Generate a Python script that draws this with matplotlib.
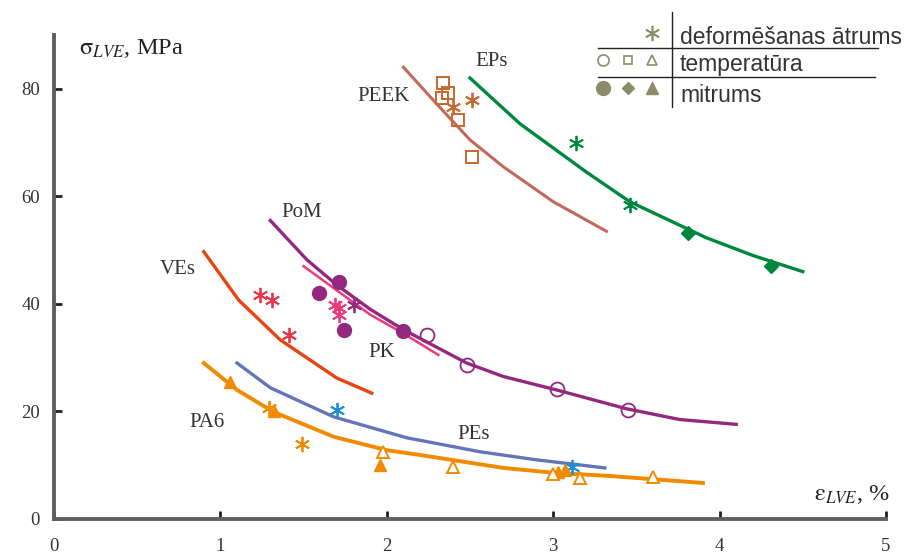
import matplotlib.pyplot as plt
from matplotlib.lines import Line2D

plt.rcParams['mathtext.fontset'] = 'stix'

# curves (strain %, stress MPa)
eps_x = [2.5, 2.8, 3.0, 3.2, 3.46, 3.7, 3.92, 4.2, 4.5]
eps_y = [82, 73.5, 69, 64.5, 59, 55.5, 52.3, 49, 46]
peek_x = [2.1, 2.32, 2.5, 2.7, 3.0, 3.32]
peek_y = [84, 76.5, 70.5, 65.5, 59, 53.5]
pom_x = [1.3, 1.52, 1.7, 1.9, 2.1, 2.48, 2.7, 3.02, 3.44, 3.76, 4.1]
pom_y = [55.5, 48.2, 43.5, 39, 35.2, 29, 26.5, 24, 20.5, 18.5, 17.6]
pk_x = [1.5, 1.7, 1.9, 2.1, 2.31]
pk_y = [47, 42.5, 38, 34.5, 30.5]
ves_x = [0.9, 1.11, 1.36, 1.7, 1.91]
ves_y = [49.7, 40.7, 33.3, 26.2, 23.4]
pes_x = [1.1, 1.3, 1.68, 2.12, 2.56, 2.9, 3.31]
pes_y = [29, 24.4, 19, 15.1, 12.5, 11, 9.5]
pa6_x = [0.9, 1.1, 1.32, 1.68, 2.0, 2.2, 2.7, 3.0, 3.34, 3.9]
pa6_y = [29, 24, 19.9, 15.3, 12.8, 11.9, 9.5, 8.6, 8.0, 6.7]

# experimental points
eps_ast_x = [3.14, 3.46]
eps_ast_y = [70, 58.4]
eps_dia_x = [3.81, 4.31]
eps_dia_y = [53.2, 47]
peek_sq_x = [2.34, 2.37, 2.33, 2.43, 2.51]
peek_sq_y = [81.1, 79.2, 78.3, 74.2, 67.3]
peek_ast_x = [2.40, 2.51]
peek_ast_y = [76.7, 78]
pom_fc_x = [1.59, 1.71, 1.74, 2.10]
pom_fc_y = [42, 44.1, 35.2, 35]
pom_oc_x = [2.24, 2.48, 3.02, 3.45]
pom_oc_y = [34.2, 28.6, 24.2, 20.3]
pom_ast_x = [1.80]
pom_ast_y = [39.8]
pk_ast_x = [1.69, 1.71, 1.71]
pk_ast_y = [39.8, 39.2, 38]
ves_ast_x = [1.24, 1.31, 1.41]
ves_ast_y = [41.7, 40.7, 34.2]
pes_ast_x = [1.70, 3.11]
pes_ast_y = [20.3, 9.7]
pa6_ft_x = [1.06, 1.32, 1.96, 3.03, 3.07]
pa6_ft_y = [25.5, 20.1, 10, 8.8, 9.2]
pa6_ot_x = [1.98, 2.40, 3.0, 3.16, 3.60]
pa6_ot_y = [12.5, 9.7, 8.4, 7.6, 7.8]
pa6_ast_x = [1.49, 1.29]
pa6_ast_y = [14, 20.6]

labels = ['EPs', 'PEEK', 'PoM', 'VEs', 'PK', 'PA6', 'PEs']
label_x = [2.63, 1.98, 1.49, 0.745, 1.97, 0.92, 2.52]
label_y = [85, 78.5, 57, 46.3, 30.9, 18, 15.8]

legend_texts = ['deformēšanas ātrums', 'temperatūra', 'mitrums']

AST = (6, 2, 0)

fig = plt.figure(figsize=(9.12, 5.58), dpi=100)
ax = fig.add_axes([0.0592, 0.0699, 0.9123, 0.8674])

ax.plot(eps_x, eps_y, color='#00873E', lw=2.4)
ax.plot(peek_x, peek_y, color='#C06A5C', lw=2.2)
ax.plot(pom_x, pom_y, color='#93287F', lw=2.4)
ax.plot(pk_x, pk_y, color='#EC3A7C', lw=1.8)
ax.plot(ves_x, ves_y, color='#E9430F', lw=2.4)
ax.plot(pes_x, pes_y, color='#6474B8', lw=2.4)
ax.plot(pa6_x, pa6_y, color='#F28A00', lw=2.8)

ms = 11
mw = 1.3
ax.plot(eps_ast_x, eps_ast_y, ls='none', marker=AST, ms=ms, mec='#00873E', mew=mw)
ax.plot(eps_dia_x, eps_dia_y, ls='none', marker='D', ms=7, color='#00873E')
ax.plot(peek_sq_x, peek_sq_y, ls='none', marker='s', ms=8, mfc='none', mec='#C8662E', mew=1.4)
ax.plot(peek_ast_x, peek_ast_y, ls='none', marker=AST, ms=ms, mec='#C8662E', mew=mw)
ax.plot(pom_fc_x, pom_fc_y, ls='none', marker='o', ms=10, color='#93287F')
ax.plot(pom_oc_x, pom_oc_y, ls='none', marker='o', ms=10, mfc='none', mec='#93287F', mew=1.3)
ax.plot(pom_ast_x, pom_ast_y, ls='none', marker=AST, ms=ms, mec='#93287F', mew=mw)
ax.plot(pk_ast_x, pk_ast_y, ls='none', marker=AST, ms=ms, mec='#EC3A7C', mew=mw)
ax.plot(ves_ast_x, ves_ast_y, ls='none', marker=AST, ms=ms, mec='#E8344A', mew=mw)
ax.plot(pes_ast_x, pes_ast_y, ls='none', marker=AST, ms=ms, mec='#1B8FD6', mew=mw)
ax.plot(pa6_ft_x, pa6_ft_y, ls='none', marker='^', ms=9, color='#F28A00')
ax.plot(pa6_ot_x, pa6_ot_y, ls='none', marker='^', ms=9, mfc='white', mec='#F28A00', mew=1.4)
ax.plot(pa6_ast_x, pa6_ast_y, ls='none', marker=AST, ms=ms, mec='#F28A00', mew=mw)

for t, x, y in zip(labels, label_x, label_y):
    ax.text(x, y, t, family='Liberation Serif', fontsize=15, color='#333333',
            ha='center', va='center')

ax.set_xlim(0, 5)
ax.set_ylim(0, 90)
ax.set_xticks([0, 1, 2, 3, 4, 5])
ax.set_yticks([0, 20, 40, 60, 80])
for s in ['top', 'right']:
    ax.spines[s].set_visible(False)
for s in ['left', 'bottom']:
    ax.spines[s].set_color('#606060')
    ax.spines[s].set_linewidth(2.8)
ax.tick_params(direction='in', length=6, width=2, color='#202020',
               labelsize=13.5, labelcolor='#333333', pad=14)
ax.tick_params(axis='y', pad=10)
for lab in ax.get_xticklabels() + ax.get_yticklabels():
    lab.set_family('Liberation Serif')

fig.text(0.087, 0.913, r'$\mathrm{\sigma}_{LVE}$, MPa', family='Liberation Serif',
         fontsize=17.5, color='#222222', va='center')
fig.text(0.976, 0.113, r'$\mathrm{\varepsilon}_{LVE}$, %', family='Liberation Serif',
         fontsize=17.5, color='#222222', va='center', ha='right')

# custom legend box
lc = '#8C8C6A'
fig.add_artist(Line2D([672/912, 672/912], [1-12/558, 1-107/558], color='#222222', lw=1))
fig.add_artist(Line2D([598/912, 878/912], [1-48/558, 1-48/558], color='#222222', lw=1))
fig.add_artist(Line2D([598/912, 875/912], [1-77/558, 1-77/558], color='#222222', lw=1))
fig.add_artist(Line2D([652/912], [1-33/558], marker=AST, ms=11, mec=lc, mew=1.2, ls='none'))
fig.add_artist(Line2D([603/912], [1-60/558], marker='o', ms=8, mfc='none', mec=lc, mew=1.2, ls='none'))
fig.add_artist(Line2D([628/912], [1-60/558], marker='s', ms=6, mfc='none', mec=lc, mew=1.2, ls='none'))
fig.add_artist(Line2D([652/912], [1-60/558], marker='^', ms=7, mfc='none', mec=lc, mew=1.2, ls='none'))
fig.add_artist(Line2D([603/912], [1-88/558], marker='o', ms=10, color=lc, ls='none'))
fig.add_artist(Line2D([628/912], [1-88/558], marker='D', ms=6, color=lc, ls='none'))
fig.add_artist(Line2D([652/912], [1-88/558], marker='^', ms=9, color=lc, ls='none'))
for t, yy in zip(legend_texts, [37, 65, 95]):
    fig.text(680/912, 1-yy/558, t, family='Liberation Sans', fontsize=16.5,
             color='#333333', va='center')

fig.savefig('out.png', dpi=100)
